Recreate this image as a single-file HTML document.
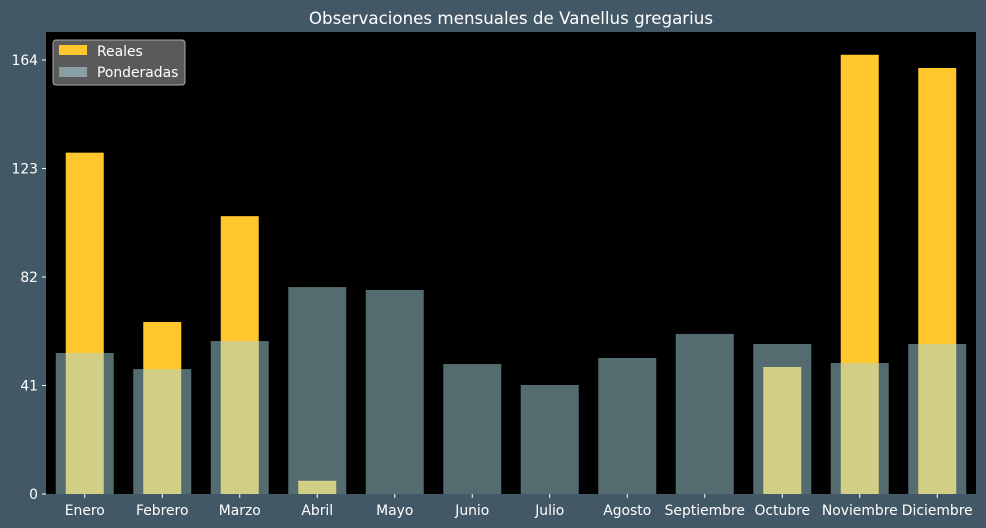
<!DOCTYPE html>
<html><head><meta charset="utf-8"><style>
html,body{margin:0;padding:0;background:#435866;}
svg{display:block;font-family:"DejaVu Sans","Liberation Sans",sans-serif;}
</style></head><body>
<svg id="chart" width="986" height="528" viewBox="0 0 986 528">
<rect x="0" y="0" width="986" height="528" fill="#435866"/>
<text x="511" y="24" fill="#ffffff" font-size="16.7" text-anchor="middle">Observaciones mensuales de Vanellus gregarius</text>
<rect x="46" y="32" width="930" height="462" fill="#000000"/>
<g id="bars"></g>
<g id="axes"></g>
<g>
<rect x="53" y="40" width="132" height="45" rx="3" fill="#5a5a5a" stroke="#aaaaaa" stroke-width="1"/>
<rect x="59" y="45" width="28" height="10" fill="#ffc72c"/>
<text x="97" y="56" fill="#ffffff" font-size="13.9">Reales</text>
<rect x="59" y="67" width="28" height="10" fill="#8a9ea3"/>
<text x="97" y="77" fill="#ffffff" font-size="13.9">Ponderadas</text>
</g>
</svg>
<script>
const categories=["Enero","Febrero","Marzo","Abril","Mayo","Junio","Julio","Agosto","Septiembre","Octubre","Noviembre","Diciembre"];
const reales=[129,65,105,5,0,0,0,0,0,48,166,161];
const ponderadas=[53.3,47.2,57.8,78.2,77.1,49.1,41.2,51.4,60.5,56.7,49.5,56.7];
const yTicks=[0,41,82,123,164];
const NS="http://www.w3.org/2000/svg";
const x0=46,x1=976,y0=494,yTop=32,yMax=174.6;
const band=(x1-x0)/categories.length;
const xc=i=>x0+band*(i+0.5);
const y=v=>y0-(v/yMax)*(y0-yTop);
const bars=document.getElementById('bars'),axes=document.getElementById('axes');
function mk(tag,attrs,parent){const e=document.createElementNS(NS,tag);for(const k in attrs)e.setAttribute(k,attrs[k]);parent.appendChild(e);return e;}
categories.forEach((c,i)=>{
  const r=mk('rect',{x:xc(i)-19,y:y(reales[i]),width:38,height:y0-y(reales[i]),fill:'#ffc72c'},bars);
  
  
});
categories.forEach((c,i)=>{
  const r=mk('rect',{x:xc(i)-29,y:y(ponderadas[i]),width:58,height:y0-y(ponderadas[i]),fill:'rgba(168,214,224,0.5)'},bars);
  
  
  const t=mk('line',{x1:xc(i),x2:xc(i),y1:y0,y2:y0+4,stroke:'#ffffff'},axes);
  
  
  const l=mk('text',{x:xc(i),y:y0+21,fill:'#ffffff','font-size':13.9,'text-anchor':'middle'},axes);
  l.textContent=c;
  
  
});
yTicks.forEach(v=>{
  const t=mk('line',{x1:x0-4,x2:x0,y1:y(v),y2:y(v),stroke:'#ffffff'},axes);
  
  
  const l=mk('text',{x:x0-8,y:y(v)+5,fill:'#ffffff','font-size':13.9,'text-anchor':'end'},axes);
  l.textContent=v;
  
  
});
</script>
</body></html>
